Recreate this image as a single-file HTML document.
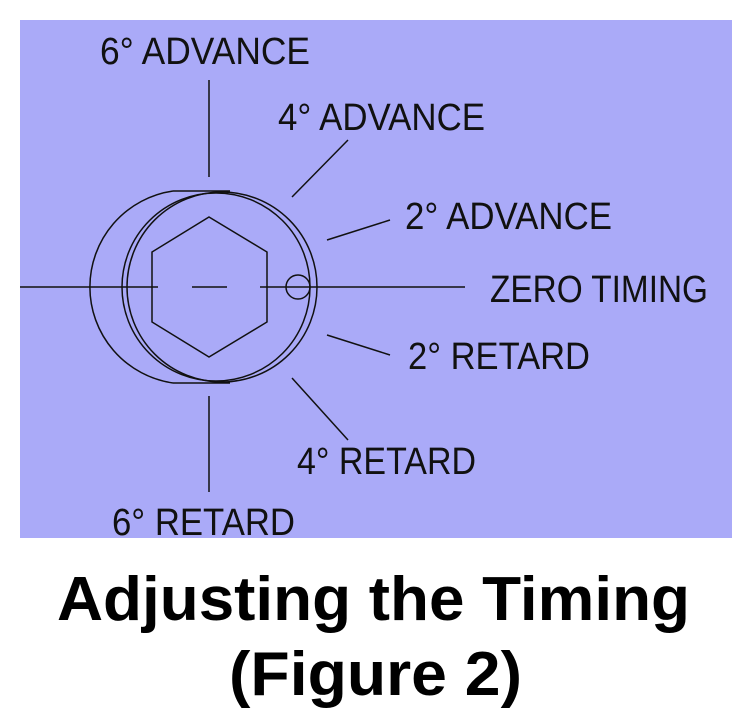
<!DOCTYPE html>
<html><head><meta charset="utf-8"><style>
html,body{margin:0;padding:0;background:#fff;}
svg{display:block;}
</style></head><body>
<svg width="750" height="712" viewBox="0 0 750 712" xmlns="http://www.w3.org/2000/svg">
<rect x="20" y="20" width="712" height="518" fill="#aaaaf8"/>
<g stroke="#111" stroke-width="1.5" fill="none">
<line x1="20" y1="287" x2="158" y2="287"/>
<line x1="192" y1="287" x2="227" y2="287"/>
<line x1="260" y1="287" x2="465" y2="287"/>
<line x1="209" y1="80" x2="209" y2="177"/>
<line x1="209" y1="396" x2="209" y2="492"/>
<polygon points="209,217 267,252 267,322 209,357 152,322 152,252"/>
<circle cx="222" cy="287" r="95"/>
<circle cx="216" cy="287" r="94"/>
<path d="M173,191 A97,97 0 0 0 173,383"/>
<line x1="173" y1="191" x2="230" y2="191"/>
<line x1="173" y1="383" x2="230" y2="383"/>
<circle cx="298" cy="287" r="12"/>
<line x1="348" y1="140" x2="292" y2="197"/>
<line x1="390" y1="220" x2="327" y2="240"/>
<line x1="327" y1="335" x2="390" y2="355"/>
<line x1="292" y1="378" x2="348" y2="440"/>
</g>
<g font-family="Liberation Sans, sans-serif" font-size="38" fill="#111">
<text x="100" y="64" textLength="210" lengthAdjust="spacingAndGlyphs">6° ADVANCE</text>
<text x="278" y="130" textLength="207" lengthAdjust="spacingAndGlyphs">4° ADVANCE</text>
<text x="405" y="229" textLength="207" lengthAdjust="spacingAndGlyphs">2° ADVANCE</text>
<text x="490" y="302" textLength="218" lengthAdjust="spacingAndGlyphs">ZERO TIMING</text>
<text x="408" y="369" textLength="182" lengthAdjust="spacingAndGlyphs">2° RETARD</text>
<text x="297" y="474" textLength="179" lengthAdjust="spacingAndGlyphs">4° RETARD</text>
<text x="112" y="535" textLength="183" lengthAdjust="spacingAndGlyphs">6° RETARD</text>
</g>
<g font-family="Liberation Sans, sans-serif" font-size="62" font-weight="bold" fill="#000">
<text x="57" y="620" textLength="633" lengthAdjust="spacingAndGlyphs">Adjusting the Timing</text>
<text x="229" y="695" textLength="293" lengthAdjust="spacingAndGlyphs">(Figure 2)</text>
</g>
</svg>
</body></html>
